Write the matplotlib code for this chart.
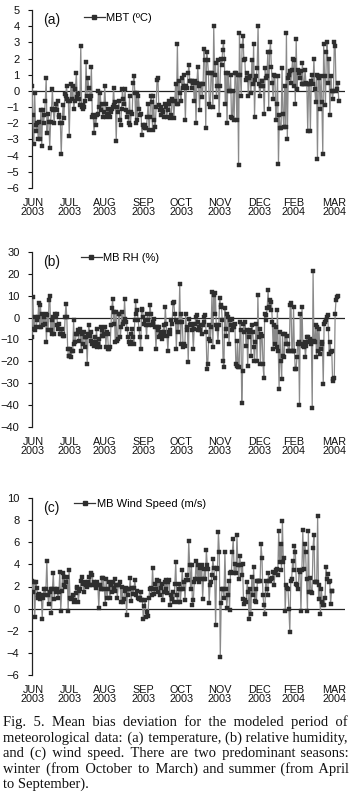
import numpy as np
import matplotlib
matplotlib.use("Agg")
import matplotlib.pyplot as plt
from matplotlib.lines import Line2D

# ---------------- data ----------------
month_labels = ["JUN\n2003", "JUL\n2003", "AUG\n2003", "SEP\n2003", "OCT\n2003",
                "NOV\n2003", "DEC\n2003", "FEB\n2004", "MAR\n2004"]
tick_days = [1, 36, 70, 107, 143, 180, 218, 251, 290]

mbt = [0.3, -1.5, -3.3, -0.1, -2.1, -2.5, -2.0, -3.0, -1.9, -3.0, -1.2, -3.4, -1.2, -2.0, -1.5, -0.6, 0.8, -2.6, -1.4, -1.9,
       -3.5, -1.9, -1.1, 0.1, -1.2, -2.0, -1.1, -0.8, -1.2, -0.6, -1.5, -1.6, -2.0, -3.9, -2.0, -0.9, -1.7, -0.2, -0.3, 0.3,
       -0.5, -0.6, -2.8, -0.6, 0.4, -0.5, 0.3, -1.1, -0.6, 0.1, 1.1, -0.4, -0.2, -0.5, -0.9, 2.8, -1.0, -1.1, -0.9, -1.0,
       -0.6, 1.8, -0.3, 0.8, 0.2, -0.5, -0.3, 1.5, -1.6, -1.5, -2.6, -1.6, -2.1, -1.5, -1.4, 0.0, -1.0, -0.1, -1.2, -0.8,
       -1.6, -1.3, 0.3, -0.8, -1.6, -1.4, -1.1, -1.4, -1.6, -1.3, -1.1, -1.0, 0.2, -0.9, -0.7, -3.1, -1.0, -1.3, -0.6, -1.8,
       -2.1, -1.1, 0.1, -0.5, -0.8, 0.1, -1.2, -1.6, -1.3, -2.0, -0.3, -2.1, -1.3, -1.4, 0.5, 0.9, -0.1, -2.0, -0.1, -1.8,
       -0.3, -1.1, -1.5, -1.4, -2.7, -2.1, -2.2, -2.3, -2.1, -2.3, -1.6, -0.8, -2.4, -1.6, -0.3, -0.7, -2.4, -0.3, -1.8, -2.2,
       -1.0, 0.7, 0.8, -0.9, -1.2, -1.0, -1.5, -1.2, -1.3, -1.6, -0.8, -1.0, -1.6, -1.2, -0.6, -0.8, -1.7, -1.5, -0.5, -0.6,
       -1.7, -0.6, 0.4, -0.8, 2.9, -0.8, 0.6, -0.1, -0.6, 0.8, 0.2, 1.0, 0.3, -1.8, 0.3, 0.2, 1.1, 1.6, 0.6, 0.6,
       0.2, 0.6, 0.5, -0.6, 0.6, -2.0, 0.5, 1.5, 0.3, -1.2, 0.4, 0.4, -0.4, 0.4, 2.6, 1.9, -2.3, 2.4, 1.9, 1.1,
       -0.8, -1.0, 1.1, 1.1, -1.0, 4.0, 1.0, 1.7, -0.4, 0.3, 1.9, -1.5, 0.3, 2.0, 1.6, 2.5, 3.0, 2.0, -0.8, 1.1,
       -2.0, 1.1, 0.0, 0.0, 1.0, -1.6, -1.7, 0.0, -1.8, 1.1, 1.1, -1.8, 1.0, -4.6, 3.6, 1.0, -0.3, 2.8, 3.4, 1.9,
       2.0, 0.7, 0.8, 1.1, -0.3, 0.8, 0.9, -0.1, 1.9, 0.4, 2.9, -1.6, 0.7, 0.9, 1.4, 4.0, 0.4, -0.3, 0.3, 0.6,
       0.6, 0.3, -1.4, 1.4, 0.8, 0.9, 2.4, -1.1, 2.4, 3.0, 1.5, 0.5, -0.5, 1.0, 0.9, -1.8, -0.8, 0.9, -4.5, -1.5,
       -2.3, -2.3, 1.4, -1.4, -2.2, 0.3, -2.2, 3.6, -3.0, 0.8, 1.0, 1.2, 0.5, 1.3, 2.0, 0.3, 1.9, -0.8, 3.2, 0.1,
       1.3, 1.1, 0.8, 1.2, 0.4, 1.7, 0.4, 0.4, 1.3, 0.5, 0.4, -2.5, 0.4, 0.4, -2.5, 0.6, 1.0, 0.4, 2.0, 0.1,
       -0.7, 1.0, -4.2, 0.9, 0.8, -1.1, 0.9, -0.7, -3.9, 2.9, 0.9, -0.9, 2.4, 3.0, 0.5, 2.0, -1.5, 0.9, 0.0, -0.5,
       0.0, 3.0, 2.8, 0.0, 0.1, 0.5, -0.6]

mb_rh = [-8.9, 9.5, -5.1, 0.3, -5.8, -4.3, -1.2, 0.3, 6.8, -4.3, 5.7, -4.3, 1.8, -3.5, 0.3, -2.8, 1.8, -11.2, 1.1, -5.8,
         8.0, 9.8, -5.8, -1.2, -7.4, 0.3, -7.4, 1.8, 0.3, 1.8, -3.5, -5.1, -2.8, -7.4, -7.7, -5.1, -8.6, -7.4, -8.6, 0.3,
         6.2, 0.3, -14.3, -17.4, -17.7, -14.3, -18.2, -15.1, -15.1, -1.2, -12.0, -11.2, -7.4, -7.7, -5.8, -10.5, -5.1, -6.6, -15.1, -7.4,
         -12.0, -6.6, -8.9, -13.5, -8.9, -21.2, -7.4, -3.5, -8.2, -10.5, -6.6, -12.0, -11.2, -12.8, -8.9, -11.2, -5.1, -13.5, -12.0, -9.7,
         -13.5, -4.3, -8.2, -5.8, -8.2, -7.4, -4.3, -13.5, -6.6, -7.4, -14.3, -14.3, -13.5, -3.5, 4.6, 8.3, -2.8, 2.6, -11.2, 2.6,
         -10.5, -9.7, 1.8, 1.8, -8.9, -4.3, 2.6, -2.8, -2.0, 8.3, -0.5, -2.0, -5.1, -8.9, -11.2, -12.0, -11.2, -7.4, -5.1, -8.9,
         -12.0, -1.2, 7.7, 1.8, 3.4, -1.2, -5.1, -8.9, -14.3, 3.4, 3.8, 0.3, -2.8, -1.2, -3.5, -8.9, 1.8, -1.2, -3.5, 5.7,
         1.8, -3.5, -2.0, -2.8, -0.5, -4.3, -14.3, -4.3, -5.8, -8.9, -4.3, -8.2, -6.6, -9.7, -8.2, -3.5, -6.6, 4.9, -2.8, -8.2,
         -15.1, -6.6, -5.8, -7.4, -1.2, -2.8, 6.5, 7.2, 1.8, -1.2, -14.3, -2.0, -6.6, -2.0, 15.4, -12.0, 1.8, -2.0, -13.5, -12.0,
         -12.8, 1.8, -5.8, -4.3, -20.5, -0.5, -3.5, -2.8, -3.5, -5.8, -14.3, -5.1, -2.8, 0.3, 1.1, -5.8, -2.0, -4.3, -5.8, -3.5,
         -7.4, -3.5, -2.0, 0.3, 1.1, -6.6, -23.5, -21.2, -9.7, -3.5, -10.5, -4.3, 11.8, -13.5, 10.3, 1.8, 11.1, -3.5, -5.1, -11.2,
         -3.5, 8.8, 4.9, 5.7, -1.2, -19.7, -22.8, 4.2, -5.1, -8.2, 1.8, 0.3, -12.0, -1.2, -3.5, -5.8, -0.5, -4.3, -4.3, -2.8,
         -21.2, -22.0, -10.5, -22.8, -22.8, -2.0, -5.8, -38.9, -24.3, -2.8, -6.6, -2.0, -12.8, -5.8, -22.0, -6.6, -8.9, -5.8, -17.4, -3.5,
         -6.6, -13.5, -19.7, -11.2, -2.8, -19.7, 10.3, -8.9, -5.1, -21.2, -7.4, -8.2, -21.2, -27.4, 1.8, -1.2, 1.1, 4.2, 12.6, 4.9,
         8.0, 3.4, 7.2, -2.0, -14.3, -3.5, -12.0, -4.3, -13.5, 3.4, -15.1, -32.8, -6.6, -19.7, -28.2, -7.4, -17.4, -18.2, -7.4, -12.0,
         -8.2, -12.0, -15.1, -15.1, 5.7, 6.5, -15.1, -15.1, 4.9, -15.1, -23.5, -23.5, -18.2, -12.0, -11.2, -40.0, 1.8, -12.0, 4.9, -12.8,
         -13.5, -11.2, -18.2, -12.8, -8.9, -8.9, -11.2, -9.7, -12.0, -10.5, -41.2, 21.1, -10.5, -11.2, -3.5, -18.2, -4.3, -15.1, -5.1, -16.6,
         -14.3, -11.2, -12.0, -30.5, -2.8, -2.0, -1.2, 0.3, 1.1, -5.1, -16.6, -11.2, -15.8, -15.1, -28.9, -28.2, -27.4, 1.8, 8.0, 9.5,
         9.8]

mb_ws = [2.5, 1.5, 2.4, -0.8, 2.4, 1.9, 1.2, 1.0, 1.3, 0.9, 1.2, -0.9, 1.0, 1.8, 1.2, 1.8, 4.3, 1.2, 0.4, 1.5,
         1.8, -0.4, 1.8, 3.2, 0.9, 1.8, 1.5, 1.8, 1.0, 1.5, 3.3, -0.2, 1.6, 3.2, 2.1, 2.9, 2.0, 2.4, 2.9, -0.2,
         3.5, 1.0, 0.9, 1.0, 1.2, 0.6, 0.8, 1.4, 2.0, 1.9, 0.6, 1.6, 1.8, 2.5, 2.9, 2.2, 1.5, 2.4, 2.1, 2.0,
         2.4, 2.1, 2.9, 2.1, 3.2, 3.0, 2.1, 2.4, 2.1, 1.9, 2.4, 2.1, 0.1, 2.1, 1.8, 2.8, 1.8, 2.8, 1.8, 0.4,
         2.7, 1.0, 1.8, 2.4, 1.0, 2.1, 1.5, 2.4, 1.9, 2.7, 1.6, 2.1, 1.0, 2.1, 2.1, 2.4, 0.6, 2.0, 0.6, 0.9,
         1.6, 1.9, -0.6, 1.8, 1.2, 1.8, 2.8, 0.7, 1.9, 1.3, 1.9, 2.6, 1.2, 1.6, 1.0, 0.9, 1.0, 1.5, 0.8, 0.8,
         -0.9, 0.2, 0.8, -0.8, -0.3, -0.7, 1.0, 1.8, 1.9, 1.2, 3.7, 1.8, 1.3, 2.2, 1.8, 2.6, 1.5, 2.5, 1.2, 1.9,
         2.2, 0.8, 1.5, 2.4, 1.8, 2.6, 1.4, 2.4, 2.6, 0.3, 1.2, 0.9, 1.5, 0.6, 2.2, 4.2, 1.2, 0.6, 1.8, 2.2,
         0.6, 1.8, 3.5, 1.8, 2.4, 0.8, 2.6, 3.0, 2.6, 6.1, 3.9, 1.8, 3.9, 0.3, 0.8, 2.4, 2.7, 4.3, 2.7, 3.9,
         2.4, 3.7, 2.7, 3.9, 0.9, 2.7, 3.6, 2.7, 5.3, 3.9, 3.6, 0.5, 2.1, 2.4, 3.0, 4.5, 3.7, 2.8, -1.5, 3.6,
         3.7, 6.9, 5.1, -4.4, 0.5, 1.8, 1.8, 1.0, 5.1, 1.8, 0.1, 1.2, 2.5, -0.1, 3.2, 3.3, 5.1, 6.3, 3.2, 4.0,
         3.2, 6.7, 3.9, 2.7, 4.8, 3.9, 3.0, 4.0, 0.9, 0.4, 0.8, 0.6, 2.4, 1.5, -0.9, 1.8, -0.5, 2.9, 1.2, 3.8,
         0.7, 1.8, 0.6, 2.5, 2.5, 2.5, 2.5, 5.8, 4.6, 1.2, 0.3, -0.5, 2.5, 1.8, 1.2, 3.2, 2.5, 2.5, 2.7, 2.8,
         3.3, 2.1, 3.2, 3.5, 3.6, 3.0, 7.0, 4.2, 5.8, 3.5, 7.9, 4.2, 4.6, -0.2, 2.1, 1.9, 1.8, 0.0, -2.1, 2.5,
         2.7, 4.3, 3.5, 5.7, 5.1, 2.2, 2.1, 1.8, 3.5, 3.3, -0.2, 3.5, 7.1, 3.6, 5.8, 5.1, 2.7, -0.2, 7.0, 1.5,
         2.8, 1.5, 1.4, 5.5, 6.7, 2.4, 2.4, 2.4, 8.4, 0.9, 2.1, -0.5, 1.8, 0.6, 0.3, 0.3, 1.0, 3.8, 2.7, 3.1,
         2.4, 2.5, 0.4, 1.6, 1.6]

series_labels = ["MBT (ºC)", "MB RH (%)", "MB Wind Speed (m/s)"]
panel_tags = ["(a)", "(b)", "(c)"]
series_end_days = [294, 293, 288]

yticks_a = [5, 4, 3, 2, 1, 0, -1, -2, -3, -4, -5, -6]
yticks_b = [30, 20, 10, 0, -10, -20, -30, -40, -50]
ylabels_b = ["30", "20", "10", "0", "-10", "-20", "-30", "-40", "-40"]
yticks_c = [10, 8, 6, 4, 2, 0, -2, -4, -6]

caption_lines = [
    "Fig. 5. Mean bias deviation for the modeled period of",
    "meteorological data: (a) temperature, (b) relative humidity,",
    "and (c) wind speed. There are two predominant seasons:",
    "winter (from October to March) and summer (from April",
    "to September).",
]

# ---------------- figure ----------------
W, H = 354, 807
fig = plt.figure(figsize=(W / 100, H / 100), dpi=100)
plt.rcParams['font.family'] = ['Liberation Sans', 'DejaVu Sans']


def px_box(left, top, right, bottom):
    return [left / W, 1 - bottom / H, (right - left) / W, (bottom - top) / H]


panels = [
    dict(box=px_box(32, 10, 345, 188), data=mbt, ylim=(-6, 5), yt=yticks_a,
         yl=[str(v).replace('-', '\u2212') for v in yticks_a], leg=(0.165, 0.985)),
    dict(box=px_box(32, 252, 345, 427), data=mb_rh, ylim=(-50, 30), yt=yticks_b,
         yl=[s.replace('-', '\u2212') for s in ylabels_b], leg=(0.155, 0.995)),
    dict(box=px_box(32, 498, 345, 675), data=mb_ws, ylim=(-6, 10), yt=yticks_c,
         yl=[str(v).replace('-', '\u2212') for v in yticks_c], leg=(0.135, 0.995)),
]

line_col = '#8a8a8a'
mark_col = '#2e2e2e'

for i, p in enumerate(panels):
    ax = fig.add_axes(p['box'])
    y = np.array(p['data'])
    x = np.linspace(0, series_end_days[i], len(y))
    ax.plot(x, y, color=line_col, lw=0.9, marker='s', ms=3.5,
            mfc=mark_col, mec=mark_col, mew=0.3, zorder=3)
    ax.axhline(0, color='#222222', lw=0.9, zorder=2)
    ax.set_xlim(0, 300)
    ax.set_ylim(*p['ylim'])
    for s in ['top', 'right', 'bottom']:
        ax.spines[s].set_visible(False)
    ax.spines['left'].set_linewidth(0.9)
    ax.spines['left'].set_color('#222222')
    ax.set_yticks(p['yt'])
    ax.set_yticklabels(p['yl'])
    ax.tick_params(axis='y', direction='out', length=3, width=0.8, pad=6,
                   labelsize=8, colors='#111111')
    ax.set_xticks(tick_days)
    ax.set_xticklabels(month_labels, linespacing=0.95)
    ax.tick_params(axis='x', length=0, pad=7, labelsize=7.8, colors='#111111')
    ax.text(0.035, 0.985, panel_tags[i], transform=ax.transAxes, fontsize=10,
            va='top', ha='left', color='#111111')
    h = Line2D([], [], color='#333333', lw=0.9, marker='s', ms=3.2,
               mfc=mark_col, mec=mark_col)
    ax.legend([h], [series_labels[i]], loc='upper left', bbox_to_anchor=p['leg'],
              frameon=False, fontsize=8, handlelength=1.9, handletextpad=0.15,
              borderpad=0, borderaxespad=0, numpoints=1)

# ---------------- justified caption (one text object per line) ----------------
fig.canvas.draw()
renderer = fig.canvas.get_renderer()
cap_left, cap_right = 3, 348
cap_base = [726, 741.5, 757, 772.5, 788]
serif = ['Liberation Serif', 'DejaVu Serif']


def text_width(s, size):
    t = fig.text(0, 0, s, family=serif, size=size)
    w = t.get_window_extent(renderer).width
    t.remove()
    return w


cap_size = 10 * (cap_right - cap_left) / text_width(caption_lines[1], 10) * 0.99
HAIR = '\u200a'
hair_w = text_width('a' + HAIR * 20 + 'a', cap_size) - text_width('aa', cap_size)
hair_w = max(hair_w / 20, 0.3)

for li, line in enumerate(caption_lines):
    yfig = 1 - cap_base[li] / H
    s = line
    if li < len(caption_lines) - 1:
        words = line.split(' ')
        ngap = len(words) - 1
        deficit = (cap_right - cap_left) - text_width(line, cap_size)
        n_extra = max(int(round(deficit / hair_w)), 0)
        per, rem = divmod(n_extra, ngap)
        parts = [words[0]]
        for g in range(ngap):
            parts.append(' ' + HAIR * (per + (1 if g < rem else 0)) + words[g + 1])
        s = ''.join(parts)
    fig.text(cap_left / W, yfig, s, va='baseline', ha='left',
             family=serif, size=cap_size, color='#111111')

fig.savefig('out.png', dpi=100)
